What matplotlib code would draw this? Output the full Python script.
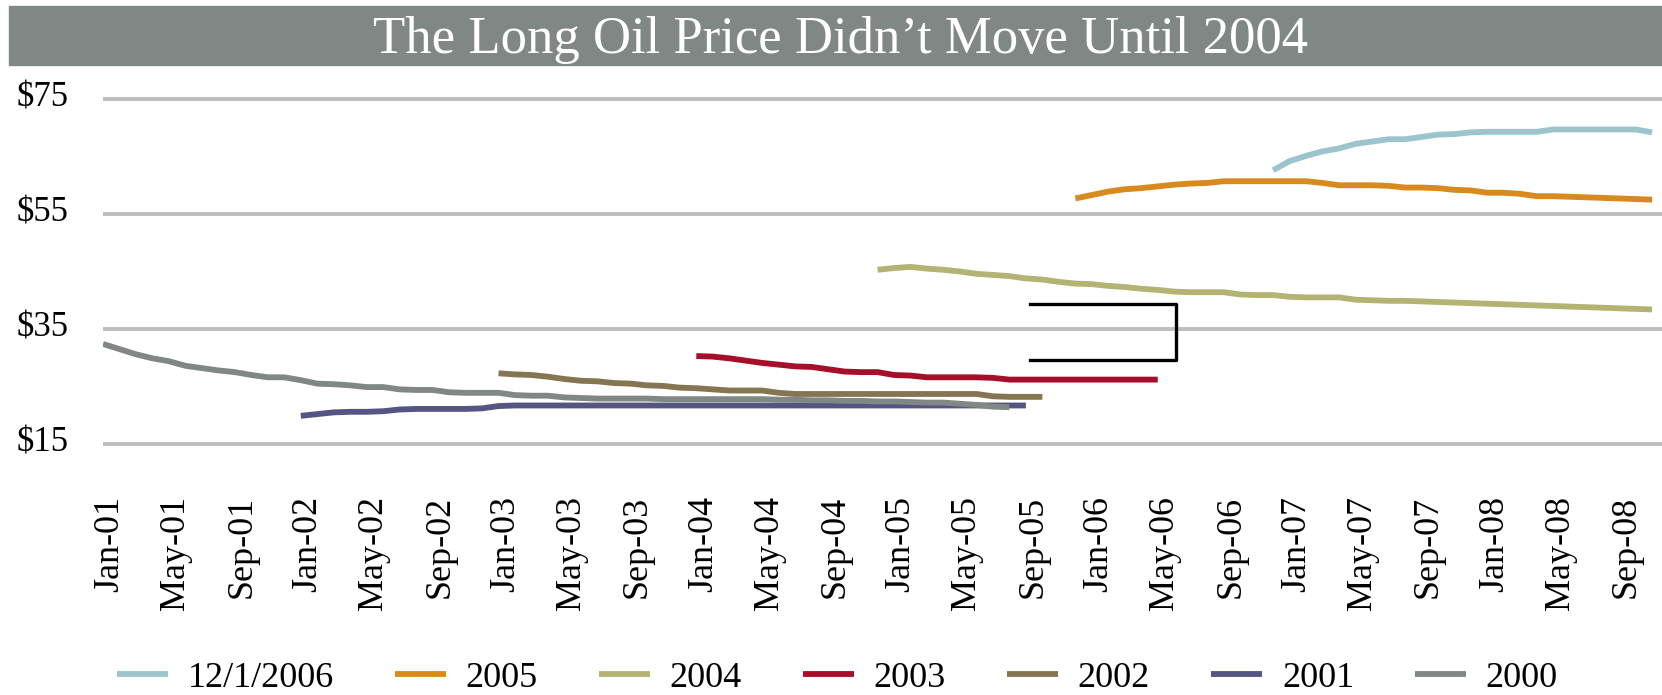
import matplotlib
matplotlib.use("Agg")
import matplotlib.pyplot as plt
import matplotlib.transforms as mtransforms
from matplotlib.patches import Rectangle

plt.rcParams['font.family'] = ['Liberation Serif', 'DejaVu Serif']

# month index: Jan-01 = 0
tick_pos = list(range(0, 93, 4))
tick_labels = ["Jan-01", "May-01", "Sep-01", "Jan-02", "May-02", "Sep-02",
               "Jan-03", "May-03", "Sep-03", "Jan-04", "May-04", "Sep-04",
               "Jan-05", "May-05", "Sep-05", "Jan-06", "May-06", "Sep-06",
               "Jan-07", "May-07", "Sep-07", "Jan-08", "May-08", "Sep-08"]

names = ["12/1/2006", "2005", "2004", "2003", "2002", "2001", "2000"]
colors = ["#9BC4CC", "#D98A1E", "#B3B474", "#A50F2A", "#857552", "#545583", "#808785"]
starts = [71, 59, 47, 36, 24, 12, 0]

curve_2006 = [62.6, 64.2, 65.1, 65.9, 66.4, 67.2, 67.6, 68.0, 68.0, 68.4, 68.8, 68.9,
              69.2, 69.3, 69.3, 69.3, 69.3, 69.7, 69.7, 69.7, 69.7, 69.7, 69.7, 69.2]
curve_2005 = [57.7, 58.3, 58.9, 59.3, 59.5, 59.8, 60.1, 60.3, 60.4, 60.7, 60.7, 60.7,
              60.7, 60.7, 60.7, 60.4, 60.0, 60.0, 60.0, 59.9, 59.6, 59.6, 59.5, 59.2,
              59.1, 58.7, 58.7, 58.5, 58.1, 58.1, 58.0, 57.9, 57.8, 57.7, 57.6, 57.5]
curve_2004 = [45.3, 45.6, 45.8, 45.5, 45.3, 45.0, 44.6, 44.4, 44.2, 43.8, 43.6, 43.2,
              42.9, 42.8, 42.5, 42.3, 42.0, 41.8, 41.5, 41.4, 41.4, 41.4, 41.0, 40.9,
              40.9, 40.6, 40.5, 40.5, 40.5, 40.1, 40.0, 39.9, 39.9, 39.8, 39.7, 39.6,
              39.5, 39.4, 39.3, 39.2, 39.1, 39.0, 38.9, 38.8, 38.7, 38.6, 38.5, 38.4]
curve_2003 = [30.3, 30.2, 29.9, 29.5, 29.1, 28.8, 28.5, 28.4, 28.0, 27.6, 27.5, 27.5,
              27.0, 26.9, 26.6, 26.6, 26.6, 26.6, 26.5, 26.2, 26.2, 26.2, 26.2, 26.2,
              26.2, 26.2, 26.2, 26.2, 26.2]
curve_2002 = [27.3, 27.1, 27.0, 26.7, 26.3, 26.0, 25.9, 25.6, 25.5, 25.2, 25.1, 24.8,
              24.7, 24.5, 24.3, 24.3, 24.3, 23.9, 23.7, 23.7, 23.7, 23.7, 23.7, 23.7,
              23.7, 23.7, 23.7, 23.7, 23.7, 23.7, 23.3, 23.2, 23.2, 23.2]
curve_2001 = [19.9, 20.2, 20.5, 20.6, 20.6, 20.7, 21.0, 21.1, 21.1, 21.1, 21.1, 21.2,
              21.6, 21.7, 21.7, 21.7, 21.7, 21.7, 21.7, 21.7, 21.7, 21.7, 21.7, 21.7,
              21.7, 21.7, 21.7, 21.7, 21.7, 21.7, 21.7, 21.7, 21.7, 21.7, 21.7, 21.7,
              21.7, 21.7, 21.7, 21.7, 21.7, 21.7, 21.7, 21.7, 21.7]
curve_2000 = [32.4, 31.5, 30.6, 29.9, 29.4, 28.6, 28.2, 27.8, 27.5, 27.0, 26.6, 26.6,
              26.1, 25.5, 25.4, 25.2, 24.9, 24.9, 24.5, 24.4, 24.4, 24.0, 23.9, 23.9,
              23.9, 23.5, 23.4, 23.4, 23.1, 23.0, 22.9, 22.9, 22.9, 22.9, 22.8, 22.8,
              22.8, 22.8, 22.8, 22.8, 22.8, 22.7, 22.7, 22.6, 22.6, 22.5, 22.5, 22.4,
              22.4, 22.3, 22.2, 22.2, 22.0, 21.8, 21.5, 21.4]
curves = [curve_2006, curve_2005, curve_2004, curve_2003, curve_2002, curve_2001, curve_2000]

y_ticks = [15, 35, 55, 75]
y_labels = ["$15", "$35", "$55", "$75"]

# black bracket annotation
bracket_x = [56.25, 65.1, 65.1, 56.25]
bracket_y = [39.3, 39.3, 29.6, 29.6]

fig = plt.figure(figsize=(16.62, 6.95), dpi=100)
ax = fig.add_axes([0.062, 0.3446, 0.938, 0.5295])

# title bar
fig.patches.append(Rectangle((9 / 1662, 1 - 65 / 695), 1, 59 / 695,
                             transform=fig.transFigure, color="#808785", zorder=0))
fig.text(0.506, 1 - 53 / 695, "The Long Oil Price Didn\u2019t Move Until 2004",
         ha="center", va="baseline", fontsize=38, color="white")

for y in y_ticks:
    ax.axhline(y, color="#BEBEBE", lw=2.8, zorder=1)

for name, col, s, vals in zip(names, colors, starts, curves):
    xs = list(range(s, s + len(vals)))
    ax.plot(xs, vals, color=col, lw=4.2, label=name, solid_capstyle="butt", zorder=3)

ax.plot(bracket_x, bracket_y, color="black", lw=2.4, zorder=4)

ax.set_xlim(0, 94.6)
ax.set_ylim(13, 77)
ax.set_yticks(y_ticks)
ax.set_yticklabels(y_labels, fontsize=25)
ax.set_xticks(tick_pos)
ax.set_xticklabels(tick_labels, rotation=90, fontsize=26)
ax.tick_params(axis="y", length=0, pad=25)
ax.tick_params(axis="x", length=0, pad=29)
offset = mtransforms.ScaledTranslation(7 / 100, 0, fig.dpi_scale_trans)
for lbl in ax.get_xticklabels():
    lbl.set_transform(lbl.get_transform() + offset)
yoff = mtransforms.ScaledTranslation(0, 5 / 100, fig.dpi_scale_trans)
for lbl in ax.get_yticklabels():
    lbl.set_transform(lbl.get_transform() + yoff)
for sp in ax.spines.values():
    sp.set_visible(False)

fig.legend(loc="center", bbox_to_anchor=(0.504, 0.0245), ncol=7, frameon=False,
           fontsize=26, handlelength=1.4, handletextpad=0.55, columnspacing=1.7)

fig.savefig("out.png", dpi=100)
